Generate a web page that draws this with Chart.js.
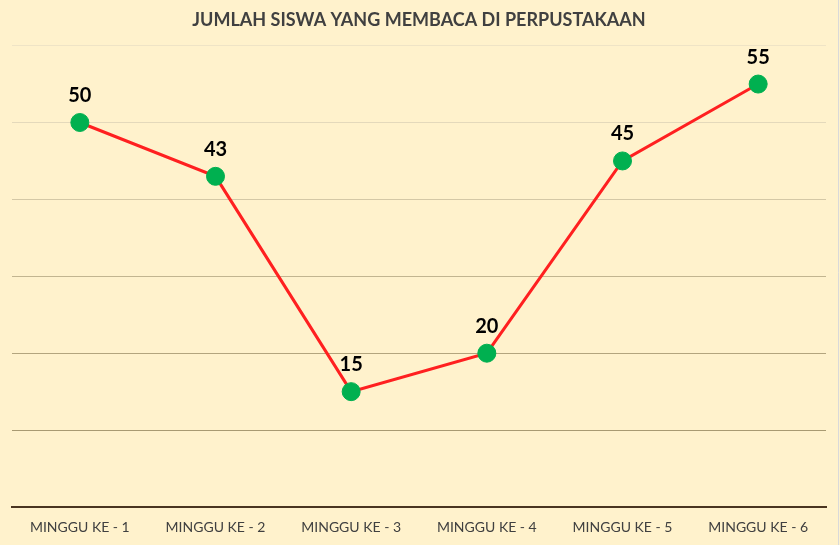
<!DOCTYPE html>
<html>
<head>
<meta charset="utf-8">
<script src="https://cdn.jsdelivr.net/npm/chart.js@4.4.0/dist/chart.umd.min.js"></script>
<style>
html,body{margin:0;padding:0;background:#FFF2CC;}
#wrap{width:840px;height:545px;position:relative;}
</style>
</head>
<body>
<div id="wrap"><canvas id="c" width="840" height="545"></canvas></div>
<script>
const categories = ["MINGGU KE - 1","MINGGU KE - 2","MINGGU KE - 3","MINGGU KE - 4","MINGGU KE - 5","MINGGU KE - 6"];
const jumlahSiswa = [50, 43, 15, 20, 45, 55];
const chartTitle = "JUMLAH SISWA YANG MEMBACA DI PERPUSTAKAAN";

const gridColors = {0:"#4a3520",10:"#a89a72",20:"#b3a57e",30:"#c2b590",40:"#d4c8a6",50:"#e4d9bb",60:"#efe4c6"};

const bgPlugin = {
  id:'bg',
  beforeDraw(chart){
    const ctx=chart.ctx;
    ctx.save();
    ctx.fillStyle='#FFF2CC';
    ctx.fillRect(0,0,chart.width,chart.height);
    ctx.strokeStyle='#d9d9d9';
    ctx.lineWidth=1;
    ctx.beginPath();ctx.moveTo(838.5,0);ctx.lineTo(838.5,chart.height);ctx.stroke();
    ctx.restore();
  }
};
const labelPlugin = {
  id:'vlabels',
  afterDatasetsDraw(chart){
    const ctx=chart.ctx;
    const meta=chart.getDatasetMeta(0);
    ctx.save();
    ctx.font='bold 20px Lato, "Open Sans", sans-serif';
    ctx.fillStyle='#000000';
    ctx.textAlign='center';
    ctx.textBaseline='middle';
    meta.data.forEach((pt,i)=>{
      ctx.fillText(String(chart.data.datasets[0].data[i]), pt.x, pt.y-27);
    });
    ctx.restore();
  }
};

new Chart(document.getElementById('c'),{
  type:'line',
  data:{
    labels:categories,
    datasets:[{
      data:jumlahSiswa,
      borderColor:'#FF2020',
      borderWidth:3,
      tension:0,
      pointRadius:9,
      pointHoverRadius:9,
      pointBackgroundColor:'#00B050',
      pointBorderColor:'#00B050',
      pointBorderWidth:1
    }]
  },
  options:{
    responsive:false,
    animation:false,
    devicePixelRatio:1,
    layout:{padding:{left:12,right:14,top:0,bottom:0}},
    plugins:{
      legend:{display:false},
      tooltip:{enabled:false},
      title:{
        display:true,
        text:chartTitle,
        color:'#404040',
        font:{family:'Lato, "Open Sans", sans-serif',size:18,weight:'bold'},
        padding:{top:9,bottom:15}
      }
    },
    scales:{
      x:{
        offset:true,
        grid:{display:false,drawTicks:false},
        border:{display:true,color:'#4a3520',width:2},
        ticks:{color:'#404040',font:{family:'Lato, "Open Sans", sans-serif',size:14},padding:12,maxRotation:0,autoSkip:false},
        afterFit(s){s.height=38;}
      },
      y:{
        min:0,max:60,
        ticks:{display:false,stepSize:10},
        border:{display:false},
        grid:{
          drawTicks:false,
          color:(c)=>gridColors[c.tick.value]||'#d4c8a6',
          lineWidth:(c)=>c.tick.value===0?0:1
        },
        afterFit(s){s.width=0;}
      }
    }
  },
  plugins:[bgPlugin,labelPlugin]
});
</script>
</body>
</html>
